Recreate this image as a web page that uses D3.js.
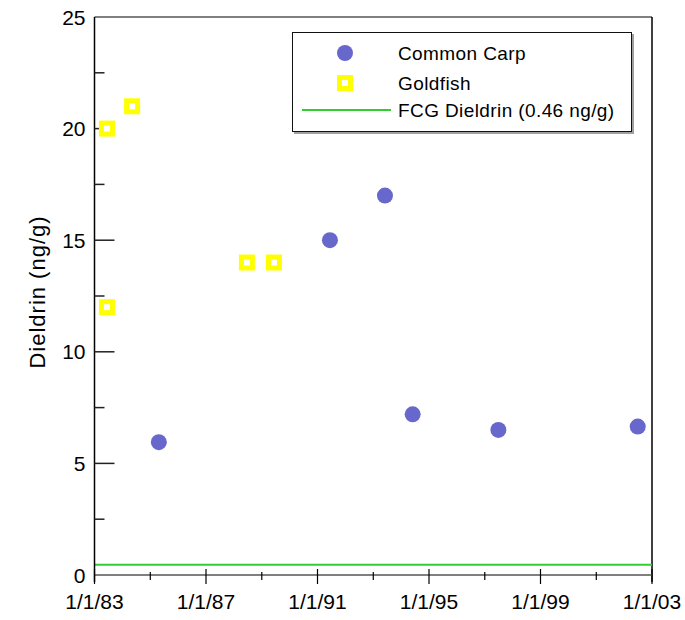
<!DOCTYPE html>
<html>
<head>
<meta charset="utf-8">
<script src="https://cdn.jsdelivr.net/npm/d3@7"></script>
<style>
  html, body { margin: 0; padding: 0; background: #ffffff; }
  svg { display: block; }
  text { font-family: Arial, "Liberation Sans", sans-serif; fill: #000; }
</style>
</head>
<body>
<svg id="chart" width="685" height="620"></svg>
<script>
// ---- Data ----
const carpDates = ["1985-04-23", "1991-06-13", "1993-06-03", "1994-06-01", "1997-06-28", "2002-06-28"];
const carpValues = [5.95, 15.0, 17.0, 7.2, 6.5, 6.65];
const goldfishDates = ["1983-06-13", "1983-06-13", "1984-05-08", "1988-06-20", "1989-06-10"];
const goldfishValues = [20, 12, 21, 14, 14];
const fcgValue = 0.46;
const yTickValues = [0, 5, 10, 15, 20, 25];
const yMinorTicks = [2.5, 7.5, 12.5, 17.5, 22.5];
const xDomain = ["1983-01-01", "2003-01-01"];
const legendLabels = ["Common Carp", "Goldfish", "FCG Dieldrin (0.46 ng/g)"];
const yTitle = "Dieldrin (ng/g)";

(function () {
const parse = d3.timeParse("%Y-%m-%d");
const carp = carpDates.map((d, i) => ({ date: parse(d), value: carpValues[i] }));
const goldfish = goldfishDates.map((d, i) => ({ date: parse(d), value: goldfishValues[i] }));

const svg = d3.select("#chart");
const pL = 94.5, pR = 652, pT = 17, pB = 575;

const x = d3.scaleTime().domain(xDomain.map(parse)).range([pL, pR]);
const y = d3.scaleLinear().domain([0, 25]).range([pB, pT]);

const carpColor = "#6868cc";
const goldColor = "#ffff00";
const green = "#33cc33";

// Frame: top grey line, right black line
svg.append("line").attr("x1", pL).attr("x2", pR).attr("y1", pT).attr("y2", pT)
  .attr("stroke", "#808080").attr("stroke-width", 2);
svg.append("line").attr("x1", pR).attr("x2", pR).attr("y1", pT).attr("y2", pB + 7)
  .attr("stroke", "#000").attr("stroke-width", 1.5);

// FCG line
svg.append("line").attr("x1", pL).attr("x2", pR).attr("y1", y(fcgValue)).attr("y2", y(fcgValue))
  .attr("stroke", green).attr("stroke-width", 2);

// X axis (bottom)
const years = d3.timeYear.range(parse("1983-01-01"), parse("2003-01-02"));
const xMajor = years.filter(d => (d.getFullYear() - 1983) % 4 === 0);
const xMinor = years.filter(d => (d.getFullYear() - 1983) % 4 === 2);

const gx = svg.append("g").attr("transform", `translate(0,${pB})`);
gx.append("line").attr("x1", pL).attr("x2", pR).attr("stroke", "#808080").attr("stroke-width", 2);
gx.selectAll(".xmaj").data(xMajor).join("line")
  .attr("x1", d => x(d)).attr("x2", d => x(d)).attr("y1", -6).attr("y2", 9)
  .attr("stroke", "#000").attr("stroke-width", 1.2);
gx.selectAll(".xmin").data(xMinor).join("line")
  .attr("x1", d => x(d)).attr("x2", d => x(d)).attr("y1", -3).attr("y2", 5)
  .attr("stroke", "#000").attr("stroke-width", 1.2);
const fmt = d3.timeFormat("%-m/%-d/%y");
gx.selectAll(".xlab").data(xMajor).join("text")
  .attr("x", d => x(d)).attr("y", 34)
  .attr("text-anchor", "middle").attr("font-size", 21)
  .text(d => fmt(d));

// Y axis (left)
const gy = svg.append("g");
gy.append("line").attr("x1", pL).attr("x2", pL).attr("y1", pT).attr("y2", pB + 7)
  .attr("stroke", "#000").attr("stroke-width", 1.5);
gy.selectAll(".ymaj").data(yTickValues.filter(v => v > 0 && v < 25)).join("line")
  .attr("x1", pL).attr("x2", pL + 20).attr("y1", d => y(d)).attr("y2", d => y(d))
  .attr("stroke", "#222").attr("stroke-width", 1.5);
gy.selectAll(".ymin").data(yMinorTicks).join("line")
  .attr("x1", pL).attr("x2", pL + 10).attr("y1", d => y(d)).attr("y2", d => y(d))
  .attr("stroke", "#222").attr("stroke-width", 1.5);
gy.selectAll(".ylab").data(yTickValues).join("text")
  .attr("x", pL - 9).attr("y", d => y(d) + 7.5)
  .attr("text-anchor", "end").attr("font-size", 21)
  .text(d => d);

// Y title
svg.append("text")
  .attr("transform", `translate(45,${292}) rotate(-90)`)
  .attr("text-anchor", "middle").attr("font-size", 22).attr("letter-spacing", 1)
  .text(yTitle);

// Goldfish squares
svg.selectAll(".gold").data(goldfish).join("rect")
  .attr("x", d => x(d.date) - 5.5).attr("y", d => y(d.value) - 5.5)
  .attr("width", 11).attr("height", 11)
  .attr("fill", "#fff").attr("stroke", goldColor).attr("stroke-width", 5);

// Carp circles
svg.selectAll(".carp").data(carp).join("circle")
  .attr("cx", d => x(d.date)).attr("cy", d => y(d.value)).attr("r", 8)
  .attr("fill", carpColor);

// Legend
const lg = svg.append("g");
lg.append("rect").attr("x", 294).attr("y", 34).attr("width", 340).attr("height", 100)
  .attr("fill", "#a0a0a0");
lg.append("rect").attr("x", 292.5).attr("y", 32.5).attr("width", 339).attr("height", 99)
  .attr("fill", "#fff").attr("stroke", "#111").attr("stroke-width", 1);
lg.append("circle").attr("cx", 345).attr("cy", 53).attr("r", 8).attr("fill", carpColor);
lg.append("rect").attr("x", 339.5).attr("y", 77.5).attr("width", 11).attr("height", 11)
  .attr("fill", "#fff").attr("stroke", goldColor).attr("stroke-width", 5);
lg.append("line").attr("x1", 302).attr("x2", 391).attr("y1", 110).attr("y2", 110)
  .attr("stroke", green).attr("stroke-width", 2);
lg.selectAll(".ltext").data(legendLabels).join("text")
  .attr("x", 398).attr("y", (d, i) => [60, 90, 117][i])
  .attr("font-size", 19).attr("letter-spacing", 0.4)
  .text(d => d);
})();
</script>
</body>
</html>
